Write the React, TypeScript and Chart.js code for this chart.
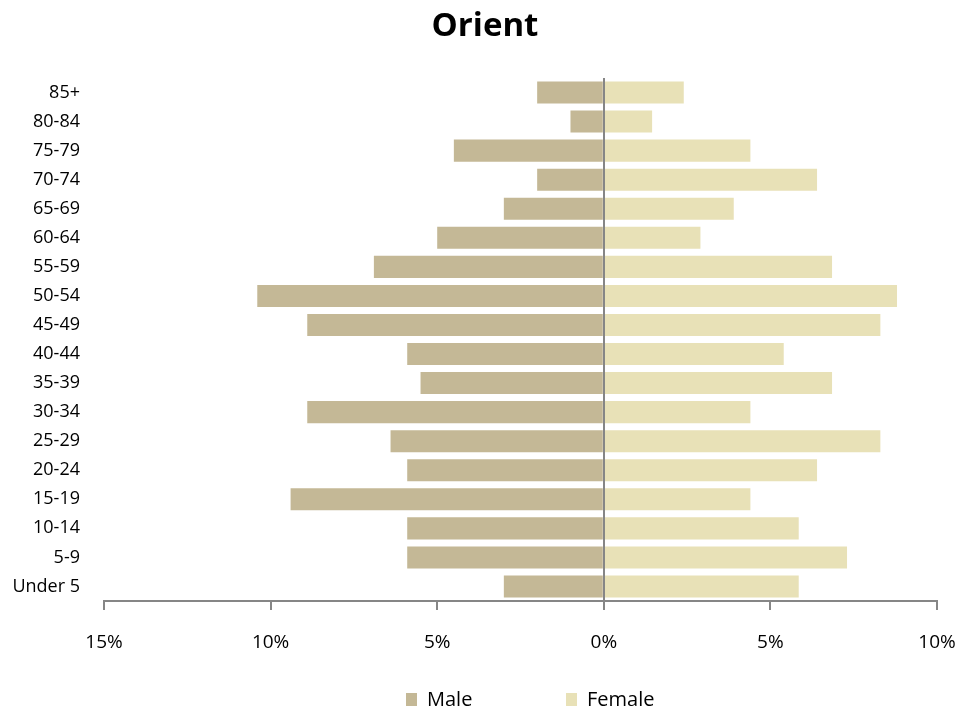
import React, { useEffect, useRef } from "react";
import { Chart, registerables } from "chart.js";

Chart.register(...registerables);

const chartTitle = "Orient";
const ageGroups = [
  "85+", "80-84", "75-79", "70-74", "65-69", "60-64", "55-59", "50-54", "45-49",
  "40-44", "35-39", "30-34", "25-29", "20-24", "15-19", "10-14", "5-9", "Under 5",
];
const maleShare = [2.0, 1.0, 4.5, 2.0, 3.0, 5.0, 6.9, 10.4, 8.9, 5.9, 5.5, 8.9, 6.4, 5.9, 9.4, 5.9, 5.9, 3.0];
const femaleShare = [2.4, 1.45, 4.4, 6.4, 3.9, 2.9, 6.85, 8.8, 8.3, 5.4, 6.85, 4.4, 8.3, 6.4, 4.4, 5.85, 7.3, 5.85];
const xMin = -15;
const xMax = 10;
const xStep = 5;
const seriesNames = ["Male", "Female"];

const MALE_COLOR = "#C4B896";
const FEMALE_COLOR = "#E8E1B7";
const AXIS_COLOR = "#868686";
const FONT = "'Open Sans', 'Noto Sans', sans-serif";

export default function App() {
  const canvasRef = useRef<HTMLCanvasElement | null>(null);

  useEffect(() => {
    document.body.style.margin = "0";
    const canvas = canvasRef.current;
    if (!canvas) return;
    const chart = new Chart(canvas, {
      type: "bar",
      data: {
        labels: ageGroups,
        datasets: [
          {
            label: seriesNames[0],
            data: maleShare.map((v) => -v),
            backgroundColor: MALE_COLOR,
            barPercentage: 0.76,
            categoryPercentage: 1,
          },
          {
            label: seriesNames[1],
            data: femaleShare,
            backgroundColor: FEMALE_COLOR,
            barPercentage: 0.76,
            categoryPercentage: 1,
          },
        ],
      },
      options: {
        indexAxis: "y",
        animation: false,
        responsive: false,
        layout: { padding: { left: 0, right: 42, top: 78, bottom: 0 } },
        plugins: {
          legend: { display: false },
          tooltip: { enabled: false },
          title: { display: false },
        },
        scales: {
          x: {
            type: "linear",
            stacked: true,
            min: xMin,
            max: xMax,
            afterFit: (scale: any) => {
              scale.height = 112;
            },
            ticks: {
              stepSize: xStep,
              padding: 21,
              color: "#000",
              font: { family: FONT, size: 19 },
              callback: (v: any) => Math.abs(Number(v)) + "%",
            },
            grid: {
              z: 1,
              color: (ctx: any) => (ctx.tick && ctx.tick.value === 0 ? AXIS_COLOR : "rgba(0,0,0,0)"),
              lineWidth: 2,
              tickColor: AXIS_COLOR,
              tickWidth: 2,
              tickLength: 9,
            },
            border: { display: true, color: AXIS_COLOR, width: 2, z: 1 },
          },
          y: {
            type: "category",
            stacked: true,
            afterFit: (scale: any) => {
              scale.width = 104;
            },
            ticks: {
              padding: 24,
              color: "#000",
              font: { family: FONT, size: 18 },
            },
            grid: { display: false, drawTicks: false },
            border: { display: false },
          },
        },
      },
    });
    return () => chart.destroy();
  }, []);

  const legendColors = [MALE_COLOR, FEMALE_COLOR];

  return (
    <div style={{ position: "relative", width: 979, height: 713, background: "#fff" }}>
      <canvas ref={canvasRef} width={979} height={713} style={{ display: "block" }} />
      <div
        style={{
          position: "absolute",
          top: 4,
          left: 0,
          width: 970,
          textAlign: "center",
          fontFamily: FONT,
          fontWeight: "bold",
          fontSize: 33,
          lineHeight: "40px",
          color: "#000",
        }}
      >
        {chartTitle}
      </div>
      <div
        style={{
          position: "absolute",
          top: 687,
          left: 406,
          display: "flex",
          alignItems: "center",
          fontFamily: FONT,
          fontSize: 20,
          lineHeight: "24px",
          color: "#000",
        }}
      >
        {seriesNames.map((name, i) => (
          <div key={name} style={{ display: "flex", alignItems: "center", width: i === 0 ? 160 : "auto" }}>
            <span style={{ display: "inline-block", width: 11, height: 13, background: legendColors[i], marginRight: 10 }} />
            <span>{name}</span>
          </div>
        ))}
      </div>
    </div>
  );
}
